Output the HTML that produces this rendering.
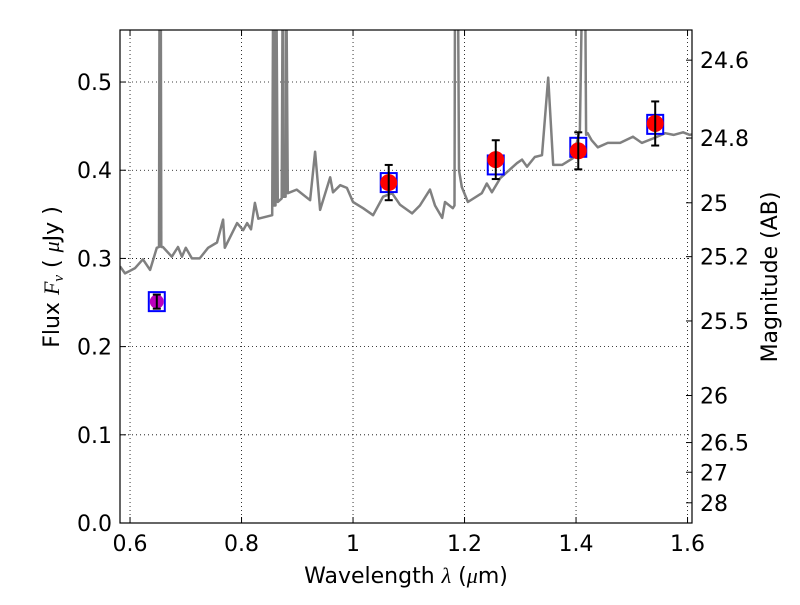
<!DOCTYPE html>
<html><head><meta charset="utf-8"><style>
body{margin:0;background:#fff;}
svg text{font-family:"DejaVu Sans","Liberation Sans",sans-serif;}
</style></head><body>
<svg id="chart" width="800" height="600" xmlns="http://www.w3.org/2000/svg">
<rect width="800" height="600" fill="#fff"/>
<g id="grid"></g>
<g id="spec"></g>
<g id="pts"></g>
<rect x="120" y="30" width="572" height="493" fill="none" stroke="#000" stroke-width="1.2"/>
<g id="ticks"></g>
<text x="406" y="583" font-size="22" text-anchor="middle">Wavelength  <tspan font-style="italic" font-family="Liberation Serif,serif">λ</tspan> (<tspan font-style="italic" font-family="Liberation Serif,serif">μ</tspan>m)</text>
<text transform="translate(59,277) rotate(-90)" font-size="22" text-anchor="middle">Flux  <tspan font-style="italic" font-family="Liberation Serif,serif">F<tspan font-size="15" dy="4">ν</tspan></tspan><tspan dy="-4">  ( </tspan><tspan font-style="italic" font-family="Liberation Serif,serif">μ</tspan>Jy )</text>
<text transform="translate(777,277) rotate(-90)" font-size="22" text-anchor="middle">Magnitude (AB)</text>
</svg>
<script>
const specLam=[0.582,0.591,0.609,0.623,0.636,0.648,0.652,0.653,0.655,0.656,0.659,0.675,0.686,0.693,0.700,0.711,0.725,0.740,0.756,0.767,0.770,0.792,0.803,0.810,0.817,0.824,0.830,0.855,0.857,0.858,0.861,0.862,0.865,0.872,0.874,0.875,0.879,0.880,0.883,0.899,0.923,0.932,0.941,0.959,0.964,0.977,0.989,1.000,1.018,1.036,1.054,1.070,1.084,1.106,1.120,1.138,1.147,1.160,1.165,1.179,1.182,1.183,1.188,1.190,1.195,1.206,1.231,1.240,1.249,1.264,1.294,1.303,1.312,1.326,1.339,1.350,1.359,1.375,1.395,1.407,1.412,1.413,1.416,1.418,1.421,1.428,1.439,1.457,1.479,1.502,1.518,1.538,1.560,1.575,1.592,1.604,1.61];
const specFlux=[0.291,0.283,0.289,0.299,0.287,0.312,0.313,0.9,0.9,0.313,0.313,0.302,0.313,0.302,0.312,0.300,0.300,0.312,0.318,0.344,0.312,0.340,0.332,0.340,0.333,0.363,0.345,0.349,0.9,0.36,0.36,0.9,0.364,0.368,0.9,0.37,0.37,0.9,0.374,0.378,0.366,0.421,0.355,0.392,0.375,0.383,0.380,0.364,0.357,0.349,0.370,0.374,0.361,0.351,0.360,0.378,0.360,0.346,0.364,0.357,0.36,0.9,0.9,0.40,0.381,0.364,0.374,0.385,0.375,0.391,0.408,0.412,0.404,0.415,0.417,0.505,0.406,0.406,0.414,0.446,0.9,0.9,0.9,0.44,0.442,0.434,0.426,0.431,0.431,0.438,0.431,0.436,0.442,0.440,0.443,0.440,0.441];
const ptLam=[0.648,1.064,1.256,1.404,1.542];
const ptFlux=[0.251,0.386,0.412,0.422,0.453];
const ptErr=[0.008,0.02,0.022,0.021,0.025];
const sqFlux=[0.251,0.386,0.406,0.426,0.452];
const xTicks=[0.6,0.8,1.0,1.2,1.4,1.6];
const xTickLabels=["0.6","0.8","1","1.2","1.4","1.6"];
const yTicks=[0,0.1,0.2,0.3,0.4,0.5];
const yTickLabels=["0.0","0.1","0.2","0.3","0.4","0.5"];
const magTicks=[24.6,24.8,25,25.2,25.5,26,26.5,27,28];
const magTickLabels=["24.6","24.8","25","25.2","25.5","26","26.5","27","28"];

const X0=120,X1=692,Y0=523,Y1=30,XMIN=0.582,XMAX=1.608,YMIN=0,YMAX=0.559;
const sx=v=>X0+(v-XMIN)/(XMAX-XMIN)*(X1-X0);
const sy=v=>Y0-(v-YMIN)/(YMAX-YMIN)*(Y0-Y1);
const NS="http://www.w3.org/2000/svg";
function mk(parent,tag,attrs){const e=document.createElementNS(NS,tag);for(const k in attrs)e.setAttribute(k,attrs[k]);document.getElementById(parent).appendChild(e);return e;}

xTicks.forEach((t,i)=>{const x=sx(t);
 let g=mk('grid','line',{x1:x,x2:x,y1:Y1,y2:Y0,stroke:'#000','stroke-width':0.8,'stroke-dasharray':'1,3'});
 
 
 mk('ticks','line',{x1:x,x2:x,y1:Y0,y2:Y0-6,stroke:'#000'});
 mk('ticks','line',{x1:x,x2:x,y1:Y1,y2:Y1+6,stroke:'#000'});
 let l=mk('ticks','text',{x:x,y:Y0+28,'font-size':22,'text-anchor':'middle'});l.textContent=xTickLabels[i];
 
 
});
yTicks.forEach((t,i)=>{const y=sy(t);
 let g=mk('grid','line',{x1:X0,x2:X1,y1:y,y2:y,stroke:'#000','stroke-width':0.8,'stroke-dasharray':'1,3'});
 
 
 mk('ticks','line',{x1:X0,x2:X0+6,y1:y,y2:y,stroke:'#000'});
 let l=mk('ticks','text',{x:X0-8,y:y+8,'font-size':22,'text-anchor':'end'});l.textContent=yTickLabels[i];
 
 
});
magTicks.forEach((m,i)=>{const f=Math.pow(10,(23.9-m)/2.5);const y=sy(f);
 mk('ticks','line',{x1:X1-6,x2:X1,y1:y,y2:y,stroke:'#000'});
 let l=mk('ticks','text',{x:X1+8,y:y+8,'font-size':22});l.textContent=magTickLabels[i];
 
 
});
let d=specLam.map((l,i)=>(i?'L':'M')+sx(l).toFixed(1)+','+Math.max(sy(specFlux[i]),-50).toFixed(1)).join(' ');
let cp=mk('spec','clipPath',{id:'clip'});
let cr=document.createElementNS(NS,'rect');cr.setAttribute('x',X0);cr.setAttribute('y',Y1);cr.setAttribute('width',X1-X0);cr.setAttribute('height',Y0-Y1);cp.appendChild(cr);
let p=mk('spec','path',{d:d,fill:'none',stroke:'#808080','stroke-width':2.5,'clip-path':'url(#clip)','stroke-linejoin':'round'});


ptLam.forEach((l,i)=>{const x=sx(l),y=sy(ptFlux[i]);
 let sq=mk('pts','rect',{x:x-8,y:sy(sqFlux[i])-9.5,width:16,height:19,fill:'none',stroke:'#0000ff','stroke-width':2});
 
 
 let c=mk('pts','circle',{cx:x,cy:y,r:i===0?7:8.5,fill:i===0?'#bb00bb':'#ff0000'});
 
 
 const yt=sy(ptFlux[i]+ptErr[i]),yb=sy(ptFlux[i]-ptErr[i]);
 mk('pts','line',{x1:x,x2:x,y1:yt,y2:yb,stroke:'#000','stroke-width':2});
 mk('pts','line',{x1:x-4,x2:x+4,y1:yt,y2:yt,stroke:'#000','stroke-width':2});
 mk('pts','line',{x1:x-4,x2:x+4,y1:yb,y2:yb,stroke:'#000','stroke-width':2});
});
</script>
</body></html>
